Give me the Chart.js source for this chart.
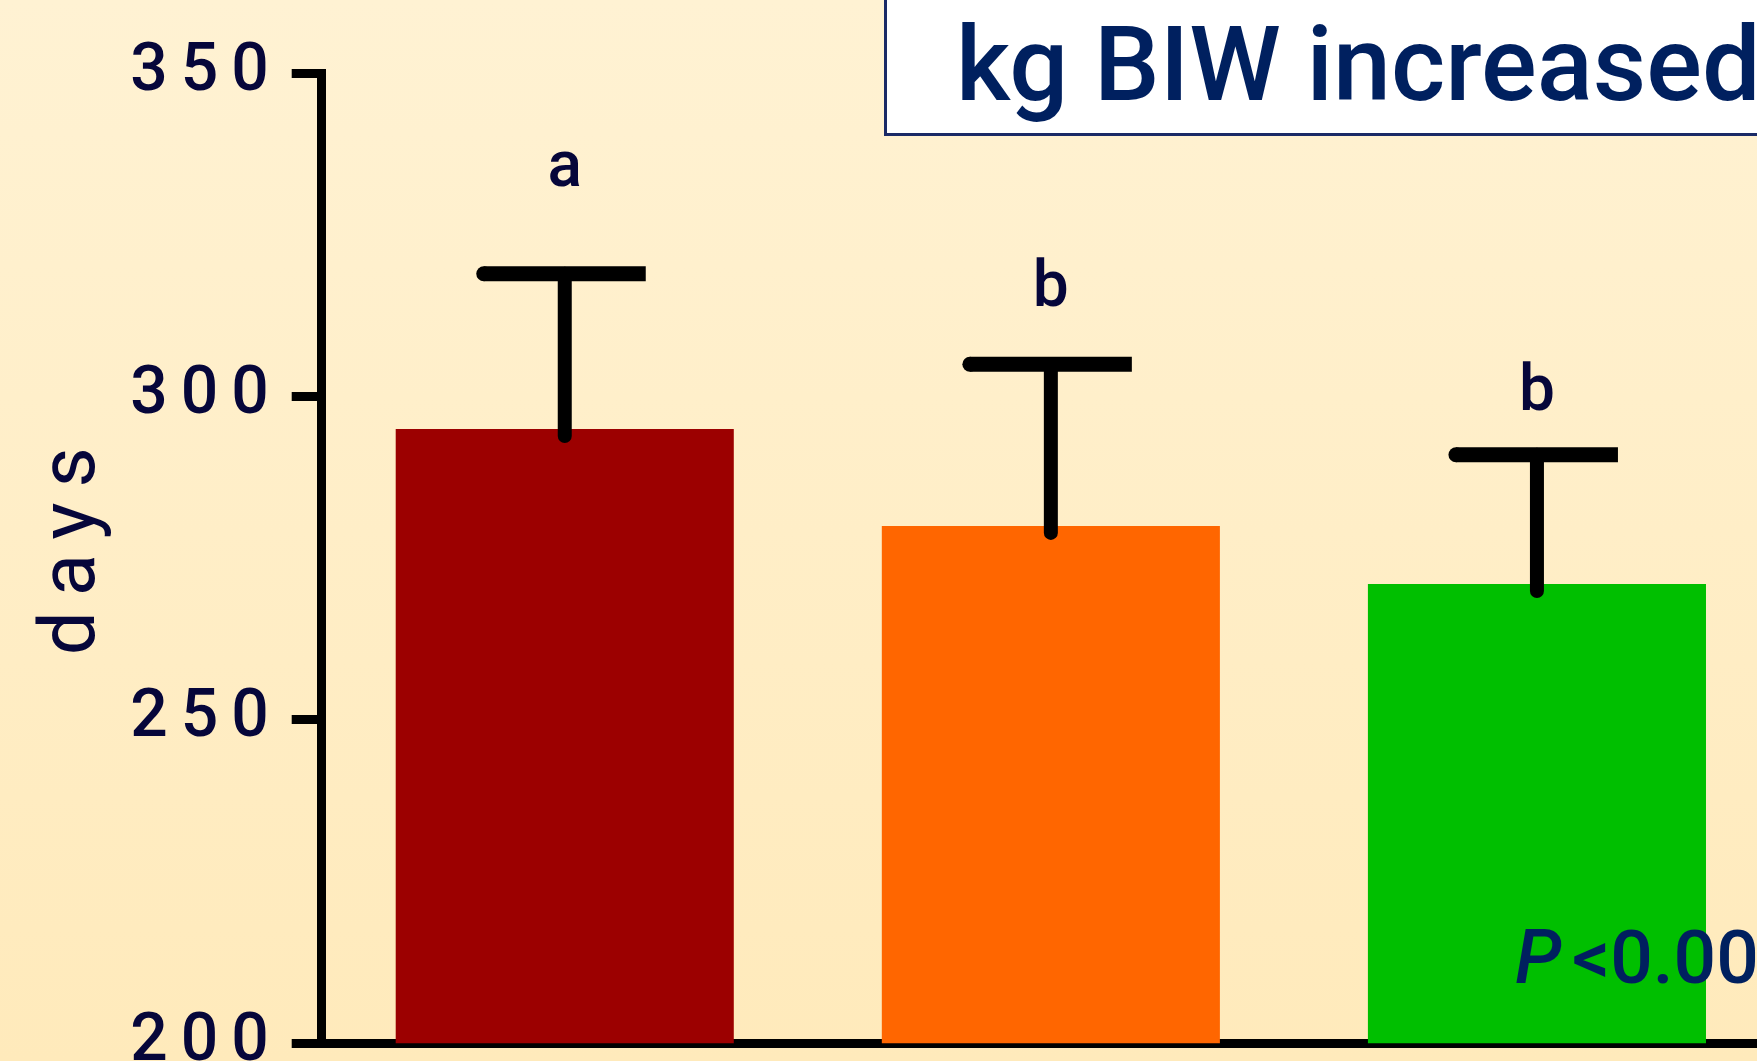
<!DOCTYPE html>
<html>
<head>
<meta charset="utf-8">
<title>kg BIW increased - days</title>
<script src="https://cdn.jsdelivr.net/npm/chart.js@4.4.0/dist/chart.umd.min.js"></script>
<style>
html, body { margin: 0; padding: 0; overflow: hidden; background: #FFEFC8; }
#wrap { position: relative; width: 1780px; height: 1061px; }
</style>
</head>
<body>
<div id="wrap"><canvas id="myChart"></canvas></div>
<script>
// values
const categories = ['Group 1', 'Group 2', 'Group 3'];
const meanDays = [295, 280, 271];
const errorTop = [319, 305, 291];
const sigLetters = ['a', 'b', 'b'];
const letterAt = [332.5, 314, 298];   // baseline of the letters, in days
const yTicks = [200, 250, 300, 350];

const barColors = ['#9C0000', '#FF6600', '#00BF00'];
const yTitle = 'days';
const boxTitle = 'kg BIW increased';
const pLabel = ['P', '<0.001'];

const navy = '#00205F';
const ink = '#06063A';

const paint = {
  id: 'paint',
  beforeDraw(chart) {
    const ctx = chart.ctx;
    const g = ctx.createLinearGradient(0, 0, 0, chart.height);
    g.addColorStop(0, '#FFF2D3');
    g.addColorStop(1, '#FFEABB');
    ctx.fillStyle = g;
    ctx.fillRect(0, 0, chart.width, chart.height);
    // spaced digits on the axis
    ctx.letterSpacing = '13px';
  },
  afterDatasetsDraw(chart) {
    const ctx = chart.ctx;
    const y = chart.scales.y;
    const bars = chart.getDatasetMeta(0).data;
    ctx.save();
    ctx.letterSpacing = '0px';
    ctx.strokeStyle = '#000';
    bars.forEach((bar, i) => {
      const cx = bar.x;
      const top = y.getPixelForValue(errorTop[i]);
      ctx.lineWidth = 14;
      ctx.lineCap = 'round';
      ctx.beginPath();
      ctx.moveTo(cx, bar.y + 7);
      ctx.lineTo(cx, top);
      ctx.stroke();
      ctx.lineWidth = 15;
      ctx.lineCap = 'butt';
      ctx.beginPath();
      ctx.moveTo(cx - 81, top);
      ctx.lineTo(cx + 81, top);
      ctx.stroke();
      ctx.beginPath();
      ctx.arc(cx - 81, top, 7.5, 0, Math.PI * 2);
      ctx.fillStyle = '#000';
      ctx.fill();

      ctx.fillStyle = ink;
      ctx.font = '500 64px Roboto';
      ctx.textAlign = 'center';
      ctx.textBaseline = 'alphabetic';
      ctx.fillText(sigLetters[i], cx, y.getPixelForValue(letterAt[i]));
    });
    ctx.restore();
  },
  afterDraw(chart) {
    const ctx = chart.ctx;
    const y = chart.scales.y;

    // rotated axis title, letter spaced
    ctx.save();
    ctx.letterSpacing = '15px';
    ctx.font = '400 78px Roboto';
    ctx.fillStyle = ink;
    ctx.textAlign = 'left';
    ctx.textBaseline = 'alphabetic';
    const w = ctx.measureText(yTitle).width - 15;
    ctx.translate(94, (y.top + y.bottom) / 2 - 7);
    ctx.rotate(-Math.PI / 2);
    ctx.fillText(yTitle, -w / 2, 0);
    ctx.restore();

    ctx.save();
    ctx.letterSpacing = '0px';
    // title box top right
    ctx.fillStyle = '#FFFFFF';
    ctx.fillRect(885, -5, 920, 139);
    ctx.strokeStyle = '#1A2A66';
    ctx.lineWidth = 3;
    ctx.strokeRect(885.5, -5, 920, 139.5);
    ctx.fillStyle = navy;
    ctx.textAlign = 'left';
    ctx.textBaseline = 'alphabetic';
    ctx.font = '500 104px Roboto';
    ctx.fillText(boxTitle, 956, 100);

    // P value
    ctx.font = 'italic 500 75px Roboto';
    ctx.fillText(pLabel[0], 1515, 983);
    ctx.font = '500 75px Roboto';
    ctx.fillText(pLabel[1], 1572, 983);
    ctx.restore();
  }
};

const config = {
  type: 'bar',
  data: {
    labels: categories,
    datasets: [{
      data: meanDays,
      backgroundColor: barColors,
      borderWidth: 0,
      categoryPercentage: 1,
      barPercentage: 0.6955
    }]
  },
  options: {
    responsive: true,
    maintainAspectRatio: false,
    animation: false,
    layout: { padding: { top: 73.3, bottom: 17.8, left: 0, right: 0 } },
    plugins: { legend: { display: false }, tooltip: { enabled: false } },
    scales: {
      x: {
        z: 1,
        ticks: { display: false },
        grid: { display: false, drawTicks: false },
        border: { display: true, color: '#000', width: 9 }
      },
      y: {
        min: 200,
        max: 350,
        afterBuildTicks: s => { s.ticks = yTicks.map(v => ({ value: v })); },
        afterFit: s => { s.width = 321.7; s.paddingTop = 0; s.paddingBottom = 0; },
        ticks: {
          color: ink,
          padding: 10,
          font: { family: 'Roboto', size: 66, weight: '500' }
        },
        grid: {
          drawOnChartArea: false,
          drawTicks: true,
          tickLength: 30,
          tickWidth: 9,
          tickColor: '#000',
          color: '#000'
        },
        border: { display: true, color: '#000', width: 9 },
        title: { display: false }
      }
    }
  },
  plugins: [paint]
};

const myChart = new Chart(document.getElementById('myChart'), config);
</script>
</body>
</html>
